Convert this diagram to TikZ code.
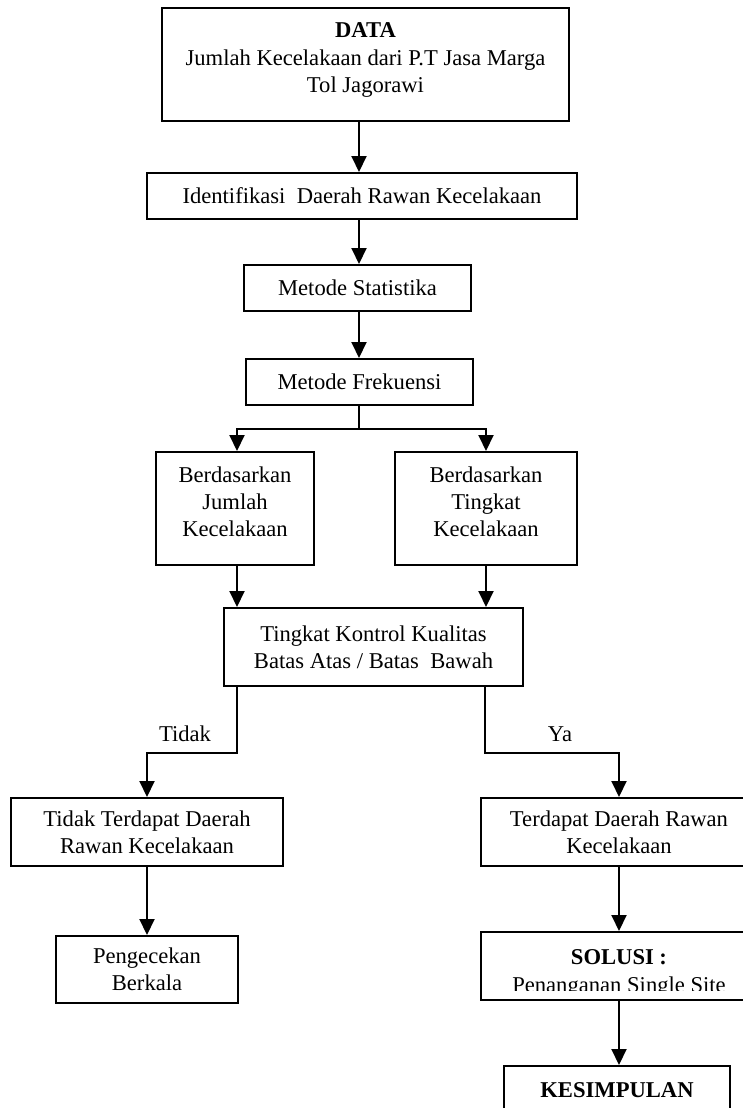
\documentclass[tikz,border=0pt]{standalone}
\usepackage{fontspec}
\setmainfont{Liberation Serif}
\usetikzlibrary{arrows.meta,calc}
\begin{document}
\begin{tikzpicture}[x=0.5pt,y=-0.5pt,
  box/.style={draw,line width=1pt,rectangle,inner sep=0pt,align=center,
    font=\fontsize{11.3}{13.6}\selectfont},
  txt/.style={inner sep=0pt,align=center,font=\fontsize{11.3}{13.6}\selectfont},
  arr/.style={line width=1pt,-{Triangle[length=8pt,width=7.5pt]}},
  ln/.style={line width=1pt}]
\useasboundingbox[fill=white] (0,0) rectangle (743,1108);
% columns
\coordinate (c1) at (359,0);
\coordinate (cl) at (237,0);
\coordinate (cr) at (486,0);
\coordinate (ll) at (147,0);
\coordinate (rr) at (619,0);
% boxes
\node[box,minimum width=407*0.5pt,minimum height=113*0.5pt] (data) at (365.5,64.5) {};
\node[txt] (datat) at (365.5,60) {\textbf{DATA}\\Jumlah Kecelakaan dari P.T Jasa Marga\\Tol Jagorawi};
\node[box,minimum width=430*0.5pt,minimum height=46*0.5pt] (ident) at (362,196) {Identifikasi\ \ Daerah Rawan Kecelakaan};
\node[box,minimum width=227*0.5pt,minimum height=46*0.5pt] (ms) at (357.5,288) {Metode Statistika};
\node[box,minimum width=227*0.5pt,minimum height=46*0.5pt] (mf) at (359.5,382) {Metode Frekuensi};
\node[box,minimum width=158*0.5pt,minimum height=113*0.5pt] (b1) at (235,508.5) {};
\node[txt] (b1t) at (235,502) {Berdasarkan\\Jumlah\\Kecelakaan};
\node[box,minimum width=182*0.5pt,minimum height=113*0.5pt] (b2) at (486,508.5) {};
\node[txt] (b2t) at (486,502) {Berdasarkan\\Tingkat\\Kecelakaan};
\node[box,minimum width=299*0.5pt,minimum height=78*0.5pt] (tk) at (373.5,647) {Tingkat Kontrol Kualitas\\Batas Atas / Batas\ \ Bawah};
\node[box,minimum width=272*0.5pt,minimum height=68*0.5pt] (tdk) at (147,832) {Tidak Terdapat Daerah\\Rawan Kecelakaan};
\node[box,minimum width=276*0.5pt,minimum height=68*0.5pt] (ter) at (619,832) {Terdapat Daerah Rawan\\Kecelakaan};
\node[box,minimum width=182*0.5pt,minimum height=67*0.5pt] (pc) at (147,969.5) {Pengecekan\\Berkala};
\node[box,minimum width=276*0.5pt,minimum height=68*0.5pt] (sol) at (619,966) {};
\begin{scope}
  \clip (483,934) rectangle (755,990);
  \node[txt,anchor=base] (solt) at (619,992) {\textbf{SOLUSI :}\\Penanganan Single Site};
\end{scope}
\node[box,minimum width=226*0.5pt,minimum height=80*0.5pt] (kes) at (617,1106) {};
\node[txt,anchor=base] (kest) at (617,1097) {\textbf{KESIMPULAN}};
% labels
\node[txt] (tidak) at (185,734) {Tidak};
\node[txt] (ya) at (560,734) {Ya};
% connectors
\draw[arr] (data.south -| c1) -- (ident.north -| c1);
\draw[arr] (ident.south -| c1) -- (ms.north -| c1);
\draw[arr] (ms.south -| c1) -- (mf.north -| c1);
\coordinate (split) at (359,429);
\draw[ln] (mf.south -| c1) -- (split);
\draw[arr] (split) -| (b1.north -| cl);
\draw[arr] (split) -| (b2.north -| cr);
\draw[arr] (b1.south -| cl) -- (tk.north -| cl);
\draw[arr] (b2.south -| cr) -- (tk.north -| cr);
\coordinate (lb) at (237,753);
\coordinate (rb) at (485,753);
\draw[arr] (tk.south -| lb) -- (lb) -| (tdk.north -| ll);
\draw[arr] (tk.south -| rb) -- (rb) -| (ter.north -| rr);
\draw[arr] (tdk.south -| ll) -- (pc.north -| ll);
\draw[arr] (ter.south -| rr) -- (sol.north -| rr);
\draw[arr] (sol.south -| rr) -- (kes.north -| rr);
\end{tikzpicture}
\end{document}
